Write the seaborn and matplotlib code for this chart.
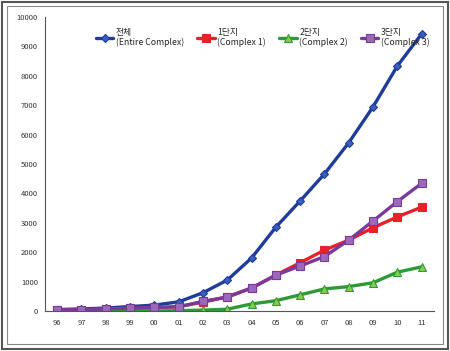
import numpy as np
import pandas as pd
import matplotlib.pyplot as plt
import seaborn as sns
from matplotlib.patches import Rectangle

sns.set_style("white")
plt.rcParams['font.family'] = ['Noto Sans CJK KR', 'DejaVu Sans']

# data
years = ["96", "97", "98", "99", "00", "01", "02", "03", "04", "05", "06", "07", "08", "09", "10", "11"]
entire = [50, 70, 100, 150, 200, 310, 620, 1050, 1800, 2850, 3740, 4660, 5720, 6940, 8330, 9420]
complex1 = [20, 40, 60, 90, 110, 150, 300, 480, 780, 1220, 1640, 2070, 2410, 2830, 3200, 3530]
complex2 = [0, 0, 0, 0, 0, 10, 30, 60, 240, 350, 550, 750, 830, 960, 1320, 1500]
complex3 = [30, 50, 70, 100, 120, 140, 330, 470, 780, 1220, 1530, 1850, 2410, 3060, 3720, 4340]
labels = ["전체\n(Entire Complex)", "1단지\n(Complex 1)", "2단지\n(Complex 2)", "3단지\n(Complex 3)"]

colors = ["#1F3C98", "#E8202A", "#2E9A35", "#7A3A9A"]
face = ["#3A5EC0", "#E8202A", "#8CCB4A", "#9A6AB8"]
markers = ["D", "s", "^", "s"]
msizes = [4, 5.5, 5.5, 6]

rows = []
for name, vals in zip(labels, [entire, complex1, complex2, complex3]):
    for i, v in enumerate(vals):
        rows.append({"x": i, "value": v, "series": name})
df = pd.DataFrame(rows)

fig = plt.figure(figsize=(4.5, 3.51), dpi=100)
ax = fig.add_axes([0.1, 0.114, 0.864, 0.838])

for k, name in enumerate(labels):
    sub = df[df["series"] == name]
    sns.lineplot(data=sub, x="x", y="value", ax=ax, color=colors[k], lw=2.4,
                 marker=markers[k], markersize=msizes[k], markerfacecolor=face[k],
                 markeredgecolor=colors[k], markeredgewidth=0.8, label=name)

ax.set_xlim(-0.5, 15.5)
ax.set_ylim(0, 10000)
ax.set_yticks(range(0, 10001, 1000))
ax.set_yticklabels([str(v) for v in range(0, 10001, 1000)], fontsize=5.5, color="#333333")
ax.set_xticks(range(len(years)))
ax.set_xticklabels(years, fontsize=5.5, color="#333333")
ax.set_xticks(np.arange(-0.5, 15.6, 1), minor=True)
ax.tick_params(axis="x", which="major", length=0, pad=6)
ax.tick_params(axis="x", which="minor", length=3, color="#555555", direction="out")
ax.tick_params(axis="y", length=3, color="#555555", direction="out", pad=2)
ax.set_xlabel("")
ax.set_ylabel("")
for s in ["top", "right"]:
    ax.spines[s].set_visible(False)
for s in ["left", "bottom"]:
    ax.spines[s].set_color("#555555")
    ax.spines[s].set_linewidth(0.8)

ax.legend(loc="upper center", bbox_to_anchor=(0.56, 0.99), ncol=4, frameon=False,
          fontsize=6.3, handlelength=2.0, handletextpad=0.3, columnspacing=1.5)

# double frame around the picture
fig.patches.append(Rectangle((0.004, 0.005), 0.992, 0.99, transform=fig.transFigure,
                             fill=False, edgecolor="#555555", lw=1.5))
fig.patches.append(Rectangle((0.016, 0.02), 0.968, 0.962, transform=fig.transFigure,
                             fill=False, edgecolor="#888888", lw=0.8))

fig.savefig("out.png", dpi=100)
